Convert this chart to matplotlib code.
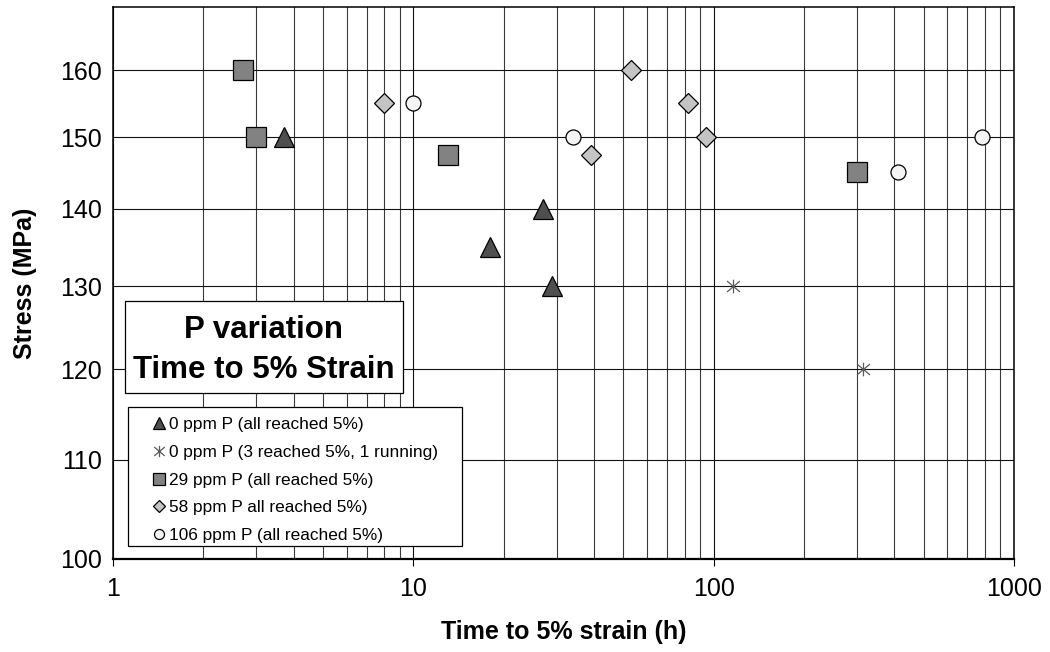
import matplotlib
matplotlib.use("Agg")
import matplotlib.pyplot as plt
from matplotlib.patches import Rectangle
from matplotlib.path import Path
from matplotlib.ticker import FixedLocator, NullLocator, FixedFormatter, NullFormatter

plt.rcParams['font.family'] = ['Liberation Sans', 'DejaVu Sans']

# Time to 5 % strain (h) and applied stress (MPa) per alloy
p0_time = [3.7, 18.0, 27.0, 29.0]
p0_stress = [150, 135, 140, 130]

p0_run_time = [116, 315]
p0_run_stress = [130, 120]

p29_time = [2.7, 3.0, 13.0, 300]
p29_stress = [160, 150, 147.5, 145]

p58_time = [8.0, 39.0, 53.0, 82.0, 94.0]
p58_stress = [155, 147.5, 160, 155, 150]

p106_time = [10.0, 34.0, 410, 785]
p106_stress = [155, 150, 145, 150]

series_labels = [
    "0 ppm P (all reached 5%)",
    "0 ppm P (3 reached 5%, 1 running)",
    "29 ppm P (all reached 5%)",
    "58 ppm P all reached 5%)",
    "106 ppm P (all reached 5%)",
]

x_ticks = [1, 10, 100, 1000]
x_tick_labels = ["1", "10", "100", "1000"]
y_ticks = [100, 110, 120, 130, 140, 150, 160]

# six-armed asterisk: vertical bar plus an X
asterisk = Path(
    [(0, -1), (0, 1), (-0.95, -0.8), (0.95, 0.8), (-0.95, 0.8), (0.95, -0.8)],
    [Path.MOVETO, Path.LINETO, Path.MOVETO, Path.LINETO, Path.MOVETO, Path.LINETO],
)

fig = plt.figure(figsize=(10.5, 6.52), dpi=100)
ax = fig.add_axes([113 / 1050, 93 / 652, 901 / 1050, 552 / 652])
ax.set_xscale('log')
ax.set_yscale('log')
ax.set_xlim(1, 1000)
ax.set_ylim(100, 170)

ax.xaxis.set_major_locator(FixedLocator(x_ticks))
ax.xaxis.set_major_formatter(FixedFormatter(x_tick_labels))
ax.xaxis.set_minor_locator(FixedLocator([m * d for d in (1, 10, 100) for m in range(2, 10)]))
ax.xaxis.set_minor_formatter(NullFormatter())
ax.yaxis.set_major_locator(FixedLocator(y_ticks))
ax.yaxis.set_major_formatter(FixedFormatter([str(v) for v in y_ticks]))
ax.yaxis.set_minor_locator(NullLocator())

ax.grid(True, which='major', axis='both', color='#111111', linewidth=0.8)
ax.grid(True, which='minor', axis='x', color='#3a3a3a', linewidth=0.8)
ax.set_axisbelow(True)

ax.tick_params(axis='x', which='major', direction='out', length=5, width=0.8,
               labelsize=18, pad=8, colors='black')
ax.tick_params(axis='x', which='minor', length=0)
ax.tick_params(axis='y', which='major', length=0, labelsize=18, pad=8)

for s in ax.spines.values():
    s.set_color('black')
    s.set_linewidth(1.1)
ax.spines['bottom'].set_linewidth(1.6)

mk = dict(linestyle='none', markeredgecolor='black', markeredgewidth=0.9, zorder=3)
h0, = ax.plot(p0_time, p0_stress, marker='^', markersize=14.4, markerfacecolor='#4f4f4f', **mk)
h1, = ax.plot(p0_run_time, p0_run_stress, marker=asterisk, markersize=9.8,
              linestyle='none', color='#5a5a5a', markeredgecolor='#5a5a5a',
              markeredgewidth=0.9, zorder=3)
h2, = ax.plot(p29_time, p29_stress, marker='s', markersize=14.4, markerfacecolor='#828282', **mk)
h3, = ax.plot(p58_time, p58_stress, marker='D', markersize=10.6, markerfacecolor='#c4c4c4', **mk)
h4, = ax.plot(p106_time, p106_stress, marker='o', markersize=10.8, markerfacecolor='#f4f4f4', **mk)

ax.set_xlabel("Time to 5% strain (h)", fontsize=18, fontweight='bold', va='center')
ax.xaxis.set_label_coords(0.5, (559 - 632) / 552)
ax.set_ylabel("Stress (MPa)", fontsize=18, fontweight='bold', va='center')
ax.yaxis.set_label_coords((25 - 113) / 901, 0.5)

# title box
ax.add_patch(Rectangle(((125 - 113) / 901, (559 - 393) / 552), 278 / 901, 92 / 552,
                       transform=ax.transAxes, facecolor='white', edgecolor='black',
                       linewidth=0.9, zorder=4))
ax.text((264 - 113) / 901, (559 - 350) / 552, "P variation\nTime to 5% Strain",
        transform=ax.transAxes, ha='center', va='center', fontsize=22.5,
        fontweight='bold', linespacing=1.45, zorder=5)

# legend frame
ax.add_patch(Rectangle(((128 - 113) / 901, (559 - 546) / 552), 334 / 901, 139 / 552,
                       transform=ax.transAxes, facecolor='white', edgecolor='black',
                       linewidth=0.9, zorder=4))
leg = ax.legend([h0, h1, h2, h3, h4], series_labels, loc='upper left',
                bbox_to_anchor=((147 - 113) / 901, (559 - 410) / 552),
                borderaxespad=0, borderpad=0.4, frameon=False, fontsize=12.4,
                handlelength=0.6, handletextpad=0.28, labelspacing=0.74, numpoints=1)
leg.set_zorder(6)
for hdl, size in zip(leg.legend_handles, [8.6, 8.0, 8.0, 6.0, 7.2]):
    hdl.set_markersize(size)

fig.savefig("out.png", dpi=100)
